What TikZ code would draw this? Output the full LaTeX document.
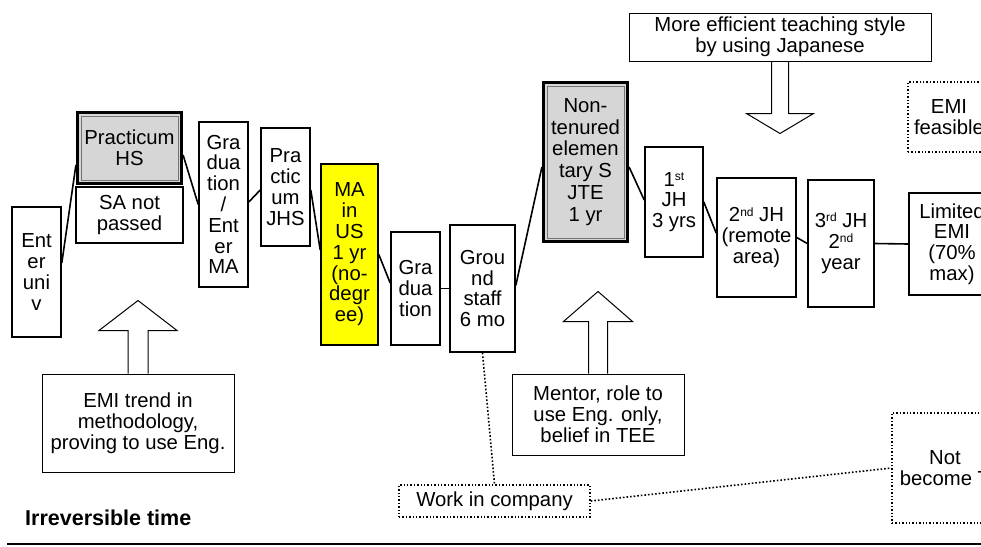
\documentclass[tikz,border=0pt]{standalone}
\usepackage{fontspec}
\setmainfont{Liberation Sans}
\definecolor{stagegray}{HTML}{D6D6D6}
\definecolor{mayellow}{HTML}{FFFF00}
\newcommand\ordsup[1]{\raisebox{0.55ex}{\fontsize{12}{12}\selectfont #1}}
\tikzset{
  size/.style 2 args={minimum width=#1pt, minimum height=#2pt},
  stage/.style={draw=black, line width=1.6pt, fill=white, align=center, inner sep=0pt,
    font=\fontsize{20.3}{20.8}\selectfont},
  shaded/.style={stage, line width=3.2pt, fill=stagegray,
    path picture={\draw[line width=0.8pt, black!55]
      ([shift={(3.5,3.5)}]path picture bounding box.north west) rectangle
      ([shift={(-3.5,-3.5)}]path picture bounding box.south east);}},
  note/.style={stage, line width=1pt},
  maybe/.style={stage, line width=1.4pt, dotted},
  link/.style={line width=1.6pt},
  hollow/.style={line width=1pt, line join=miter}
}
\begin{document}
\begin{tikzpicture}[x=1pt,y=-1pt]
        \useasboundingbox (0,0) rectangle (981,546);
        % stages along the time line
        \node[stage, size={49}{130}] (enter) at (36.5,272) {Ent\\er\\uni\\v};
        \node[shaded, size={104}{71}] (prhs) at (129.5,148) {Practicum\\HS};
        \node[stage, size={107}{56}] (sanp) at (129.5,215) {SA not\\passed};
        \node[stage, size={49}{165}] (grad) at (223.5,204.5) {Gra\\dua\\tion\\/\\Ent\\er\\MA};
        \node[stage, size={49}{118}] (prjhs) at (285.5,187) {Pra\\ctic\\um\\JHS};
        \node[stage, fill=mayellow, size={57}{181}] (ma) at (349.5,254.5) {MA\\in\\US\\1 yr\\(no-\\degr\\ee)};
        \node[stage, size={49}{113}] (grad2) at (415.5,288.5) {Gra\\dua\\tion};
        \node[stage, size={65}{127}] (ground) at (482.5,288.5) {Grou\\nd\\staff\\6 mo};
        \node[shaded, size={84}{159}, font=\fontsize{20.3}{21.8}\selectfont] (jte) at (585.5,162) {Non-\\tenured\\elemen\\tary S\\JTE\\1 yr};
        \node[stage, size={58}{110}] (jh1) at (674,202) {1\ordsup{st}\\JH\\3 yrs};
        \node[stage, size={79}{119}] (jh2) at (756.5,237.5) {2\ordsup{nd} JH\\(remote\\area)};
        \node[stage, size={66}{127}] (jh3) at (841,243.5) {3\ordsup{rd} JH\\2\ordsup{nd}\\year};
        \node[stage, size={86}{102}] (limited) at (952,244) {Limited\\EMI\\(70\%\\max)};
        % influences
        \node[note, size={302}{48}] (japanese) at (780,37) {More efficient teaching style\\by using Japanese};
        \node[note, size={192}{98}] (trend) at (138,423) {EMI trend in\\methodology,\\proving to use Eng.};
        \node[note, size={172}{81}] (mentor) at (598,414.5) {Mentor, role to\\use Eng. only,\\belief in TEE};
        % other paths
        \node[maybe, size={82}{70}] (feasible) at (949,117) {EMI\\feasible};
        \node[maybe, size={106}{110}] (notjte) at (945,468) {Not\\become T};
        \node[maybe, size={191}{32}] (company) at (494.5,501) {Work in company};
        \node[anchor=west, inner sep=0pt, font=\fontsize{21.5}{22}\selectfont\bfseries] (irrev) at (25,518) {Irreversible time};
        \draw[link] ([yshift=9pt]enter.east) -- ([yshift=-17pt]prhs.west);
        \draw[link] ([yshift=-7pt]prhs.east) -- (grad.west);
        \draw[link] ([yshift=2.5pt]grad.east) -- ([yshift=-3pt]prjhs.west);
        \draw[link] ([yshift=-3pt]prjhs.east) -- ([yshift=4.5pt]ma.west);
        \draw[link] (ma.east) -- ([yshift=5.5pt]grad2.west);
        \draw[link] (grad2.east) -- (ground.west);
        \draw[link] ([yshift=3pt]ground.east) -- ([yshift=-5pt]jte.west);
        \draw[link] ([yshift=-5pt]jte.east) -- ([yshift=2pt]jh1.west);
        \draw[link] (jh1.east) -- ([yshift=4.5pt]jh2.west);
        \draw[link] (jh2.east) -- (jh3.west);
        \draw[link] (jh3.east) -- (limited.west);
        \draw[line width=1.6pt, dotted] (ground.south) -- (company.north);
        \draw[line width=1.6pt, dotted] (company.east) -- (notjte.west);
        % hollow arrows
        \draw[hollow] ([xshift=-10pt]trend.north) -- ++(0,-43) -- ++(-29,0) -- ++(39,-30)
            -- ++(39,30) -- ++(-29,0) -- ++(0,43);
        \draw[hollow] ([xshift=-9.5pt]mentor.north) -- ++(0,-52) -- ++(-25,0) -- ++(34.5,-30)
            -- ++(34.5,30) -- ++(-25,0) -- ++(0,52);
        \draw[hollow] ([xshift=-8.5pt]japanese.south) -- ++(0,52) -- ++(-25,0) -- ++(33.5,20)
            -- ++(33.5,-20) -- ++(-25,0) -- ++(0,-52);
        \draw[line width=1.6pt] (7,544) -- (981,544);
    \end{tikzpicture}
\end{document}
